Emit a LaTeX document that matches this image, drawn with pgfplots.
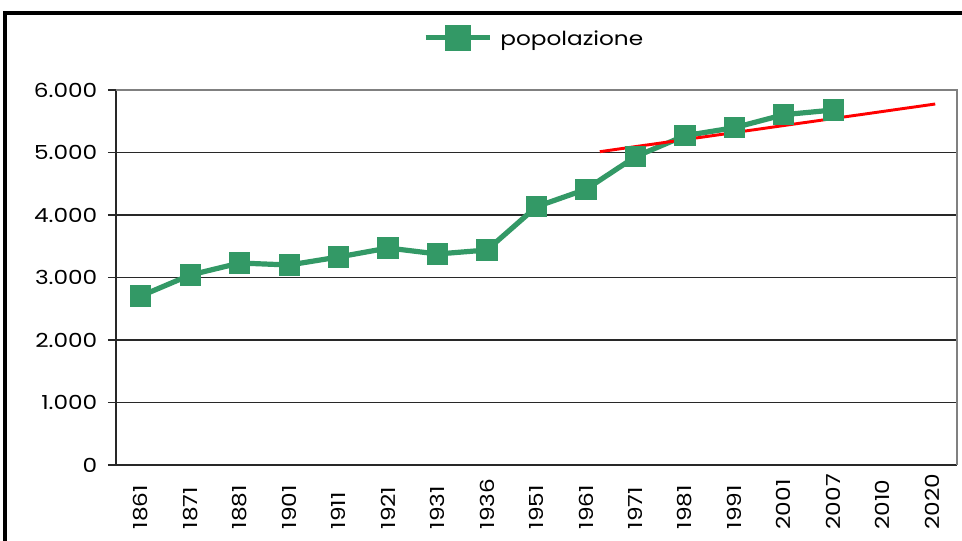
\documentclass[border=0pt]{standalone}
\usepackage{pgfplots}
\pgfplotsset{compat=1.18}
\usepackage{fontspec}
\setmainfont{Poppins}[FakeStretch=1.2]
\definecolor{popgreen}{RGB}{51,153,102}
\definecolor{gridc}{RGB}{40,40,40}
\definecolor{framegray}{RGB}{128,128,128}

\begin{document}
\begin{tikzpicture}[x=0.75pt,y=0.75pt]
\path[use as bounding box] (0,0) rectangle (962,540);
% outer chart frame (left and top edges visible)
\draw[line width=2.4pt, black] (5,-5) -- (5,527) -- (975,527);

\begin{axis}[
    at={(87pt,56.25pt)}, anchor=south west,
    scale only axis,
    width=630.75pt, height=281.25pt,
    xmin=-0.5, xmax=16.5,
    ymin=0, ymax=6000,
    axis x line*=bottom, axis y line*=left,
    axis line style={gridc, line width=0.9pt},
    xtick={0,...,16},
    xticklabels={1861,1871,1881,1901,1911,1921,1931,1936,1951,1961,1971,1981,1991,2001,2007,2010,2020},
    xtick style={draw=none},
    extra x ticks={-0.5,0.5,...,16.5},
    extra x tick labels={},
    extra x tick style={major tick length=6pt, tick align=outside, draw=gridc, line width=0.9pt, grid=none},
    x tick label style={rotate=90, anchor=west, inner sep=0pt},
    xticklabel shift=42.5pt,
    ytick={0,1000,...,6000},
    ymajorgrids,
    grid style={gridc, line width=0.8pt},
    ytick style={draw=gridc, line width=0.9pt},
    major tick length=6pt, tick align=outside,
    yticklabel shift=4.5pt,
    /pgf/number format/.cd, 1000 sep={.}, assume math mode=true,
    /pgfplots/.cd,
    tick label style={font=\fontsize{14.5}{16}\selectfont, black},
    legend style={at={(0.496,1.139)}, anchor=center, draw=none, fill=none,
        font=\fontsize{14.5}{16}\selectfont, inner sep=0pt,
        nodes={inner sep=0pt, text depth=0pt}},
    legend image code/.code={
        \draw[popgreen, line width=3.9pt] (0pt,0pt) -- (48pt,0pt);
        \fill[popgreen] (16.1pt,-7.9pt) rectangle (31.9pt,7.9pt);
        \path (54pt,0pt);
    },
    clip=false,
]
\addplot[color=popgreen, line width=3.9pt, mark=square*,
    mark options={solid, fill=popgreen, draw=popgreen, line width=0pt}, mark size=7.6pt]
    coordinates {
    (0,2704) (1,3040) (2,3232) (3,3200) (4,3328) (5,3472) (6,3376) (7,3440)
    (8,4133) (9,4411) (10,4933) (11,5269) (12,5397) (13,5605) (14,5680)
};
\addlegendentry{popolazione}
\addplot[color=red, line width=2.2pt, forget plot] coordinates {
    (9.28,5013) (16.06,5776)
};
% top and right border of plot area
\draw[framegray, line width=1.6pt] (rel axis cs:0,1) -- (rel axis cs:1,1) -- (rel axis cs:1,0);
\end{axis}
\end{tikzpicture}
\end{document}
